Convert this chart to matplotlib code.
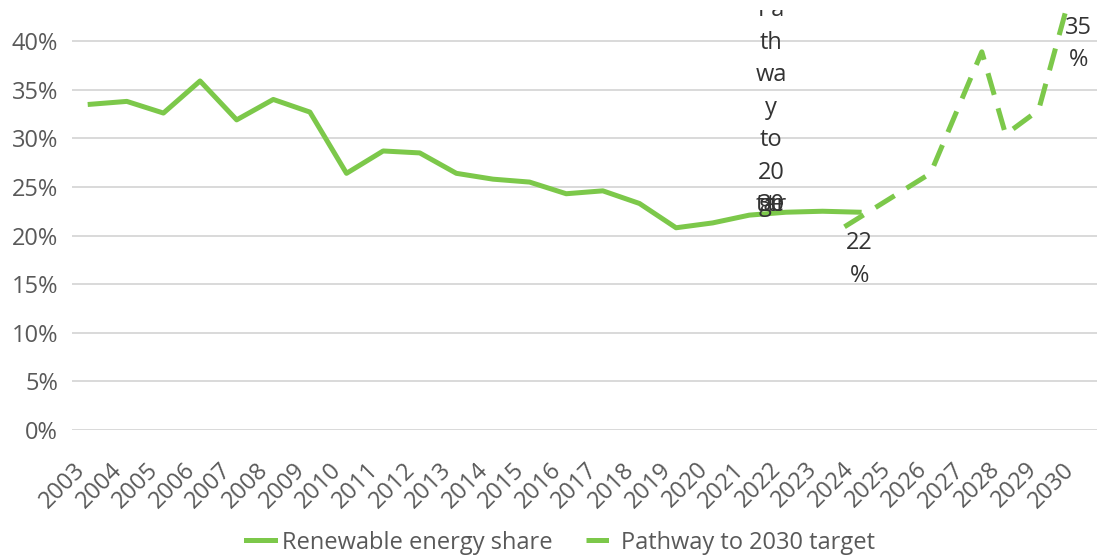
import matplotlib
matplotlib.use("Agg")
import matplotlib.pyplot as plt
from matplotlib.ticker import FuncFormatter, MultipleLocator

# ============================== Data

years = list(range(2003, 2031))
share_years = list(range(2003, 2025))
share_pct = [33.5, 33.8, 32.6, 35.9, 31.9, 34.0, 32.7, 26.4, 28.7, 28.5, 26.4,
             25.8, 25.5, 24.3, 24.6, 23.3, 20.8, 21.3, 22.1, 22.4, 22.5, 22.4]

# pathway series is drawn on a smoothed x grid, not on whole years
path_x = [2023.6, 2025.95, 2027.35, 2028.0, 2028.9, 2029.65]
path_pct = [20.9, 26.4, 38.9, 30.4, 32.9, 43.2]

# wrapped series label (the last four chunks overprint each other)
path_label_lines = ["Pa", "th", "wa", "y", "to", "20"]
path_label_tail = ["30", "tar", "ge", "t"]
label_start = ["22", "%"]
label_end = ["35", "%"]

GREEN = "#7cc84a"
GREY = "#595959"
DARK = "#333333"
FONT = 17

plt.rcParams["font.family"] = ["Open Sans", "DejaVu Sans"]

fig = plt.figure(figsize=(11.06, 5.59), dpi=100)
# plot area: top edge clips the wrapped label, 0% sits at y=430px
ax = fig.add_axes([0.065, 0.2308, 0.927, 0.7513])

ax.plot(share_years, share_pct, color=GREEN, lw=3.6, solid_joinstyle="round",
        label="Renewable energy share", zorder=3)
ax.plot(path_x, path_pct, color=GREEN, lw=3.6, dashes=(4.5, 2.8),
        dash_capstyle="butt", label="Pathway to 2030 target", zorder=3,
        clip_on=False)

ax.set_xlim(2002.5, 2030.5)
ax.set_ylim(0, 43.2)
ax.yaxis.set_major_locator(MultipleLocator(5))
ax.yaxis.set_major_formatter(FuncFormatter(lambda v, _: f"{v:.0f}%"))
ax.set_xticks(years)
ax.set_xticklabels([str(y) for y in years], rotation=45, ha="right",
                   va="top", rotation_mode="default")

ax.grid(axis="y", color="#d9d9d9", lw=1.4)
ax.set_axisbelow(True)
for s in ax.spines.values():
    s.set_visible(False)
ax.tick_params(axis="both", length=0, labelsize=FONT, labelcolor=GREY)
ax.tick_params(axis="y", pad=10)
ax.tick_params(axis="x", pad=20)

# data labels
step = 23.4  # points between wrapped lines
n = len(path_label_lines)
for i, t in enumerate(path_label_lines):
    ax.annotate(t, xy=(2021.6, 23.1), xytext=(0, (n - i) * step),
                textcoords="offset points", ha="center", va="center",
                fontsize=FONT, color=DARK, annotation_clip=False,
                clip_on=True)
for t in path_label_tail:
    ax.annotate(t, xy=(2021.6, 23.1), xytext=(0, 0),
                textcoords="offset points", ha="center", va="center",
                fontsize=FONT, color=DARK)
for i, t in enumerate(label_start):
    ax.annotate(t, xy=(2024, 19.2), xytext=(0, -i * step),
                textcoords="offset points", ha="center", va="center",
                fontsize=FONT, color=DARK)
for i, t in enumerate(label_end):
    ax.annotate(t, xy=(2030, 41.4), xytext=(0, -i * step),
                textcoords="offset points", ha="center", va="center",
                fontsize=FONT, color=DARK, annotation_clip=False)

fig.legend(loc="lower center", bbox_to_anchor=(0.507, -0.03), ncol=2,
           frameon=False, fontsize=FONT, labelcolor=GREY, handlelength=1.2,
           handletextpad=0.3, columnspacing=1.4)

fig.savefig("out.png", dpi=100)
